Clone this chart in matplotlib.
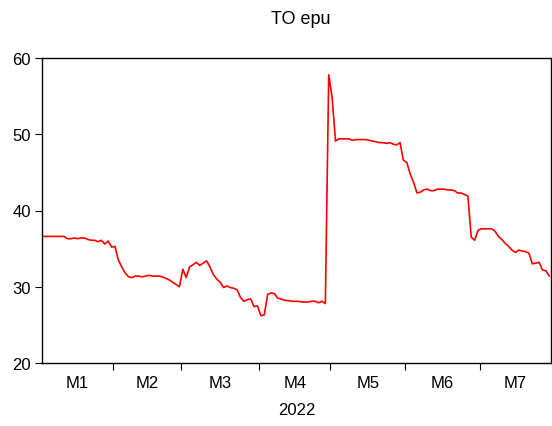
import matplotlib
matplotlib.use("Agg")
import matplotlib.pyplot as plt
import numpy as np

plt.rcParams['font.family'] = ['Liberation Sans', 'DejaVu Sans']

# business-day values, Jan..Jul 2022
jan = [36.6, 36.6, 36.6, 36.6, 36.6, 36.6, 36.6, 36.3, 36.3, 36.4, 36.3,
       36.4, 36.4, 36.2, 36.1, 36.1, 35.9, 36.1, 35.6, 36.0, 35.2]
feb = [35.3, 33.5, 32.6, 31.8, 31.3, 31.2, 31.4, 31.4, 31.3, 31.4, 31.5,
       31.4, 31.4, 31.4, 31.3, 31.1, 30.9, 30.6, 30.3, 30.0]
mar = [32.3, 31.2, 32.6, 32.9, 33.2, 32.8, 33.1, 33.4, 32.6, 31.6, 31.0,
       30.6, 29.9, 30.1, 29.9, 29.8, 29.6, 28.6, 28.1, 28.3, 28.4, 27.4, 27.5]
apr = [26.2, 26.3, 29.0, 29.2, 29.1, 28.5, 28.4, 28.2, 28.2, 28.1, 28.1,
       28.1, 28.0, 28.0, 28.0, 28.1, 28.1, 27.9, 28.1, 27.8, 57.8]
may = [54.8, 49.1, 49.4, 49.4, 49.4, 49.4, 49.2, 49.3, 49.3, 49.3, 49.3,
       49.2, 49.1, 49.0, 48.9, 48.9, 48.8, 48.9, 48.7, 48.6, 48.9, 46.6]
jun = [46.3, 44.8, 43.7, 42.3, 42.4, 42.7, 42.8, 42.6, 42.6, 42.8, 42.8,
       42.8, 42.7, 42.7, 42.6, 42.3, 42.3, 42.1, 41.9, 36.5, 36.1, 37.4]
jul = [37.6, 37.6, 37.6, 37.6, 37.3, 36.6, 36.2, 35.7, 35.3, 34.8, 34.5,
       34.8, 34.7, 34.6, 34.4, 33.0, 33.1, 33.2, 32.2, 32.1, 31.4]

months = [jan, feb, mar, apr, may, jun, jul]
month_labels = ["M1", "M2", "M3", "M4", "M5", "M6", "M7"]

values = np.concatenate(months)
idx = np.arange(len(values))

lens = np.array([len(m) for m in months])
bounds = np.cumsum(lens) - 0.5
starts = np.concatenate([[-0.5], bounds[:-1]])
centers = (starts + bounds) / 2

fig = plt.figure(figsize=(5.52, 4.27), dpi=100)
ax = fig.add_axes([42/552, 1-364/427, 509/552, 305/427])
ax.plot(idx, values, color='#ff0000', lw=1.2)

ax.set_xlim(-0.5, len(values) - 0.5)
ax.set_ylim(20, 60)
ax.set_yticks([20, 30, 40, 50, 60])

ax.set_xticks(bounds[:-1])
ax.set_xticklabels([])
ax.set_xticks(centers, minor=True)
ax.set_xticklabels(month_labels, minor=True)
ax.tick_params(axis='x', which='major', direction='out', length=5, width=0.8)
ax.tick_params(axis='x', which='minor', length=0, pad=9, labelsize=12)
ax.tick_params(axis='y', direction='out', length=5, width=0.8, labelsize=12, pad=3)
ax.set_xlabel("2022", fontsize=12, labelpad=8)

for s in ax.spines.values():
    s.set_linewidth(1.0)

fig.suptitle("TO epu", x=301/552, y=1-20/427, va='center', fontsize=13)

fig.savefig("out.png", dpi=100)
